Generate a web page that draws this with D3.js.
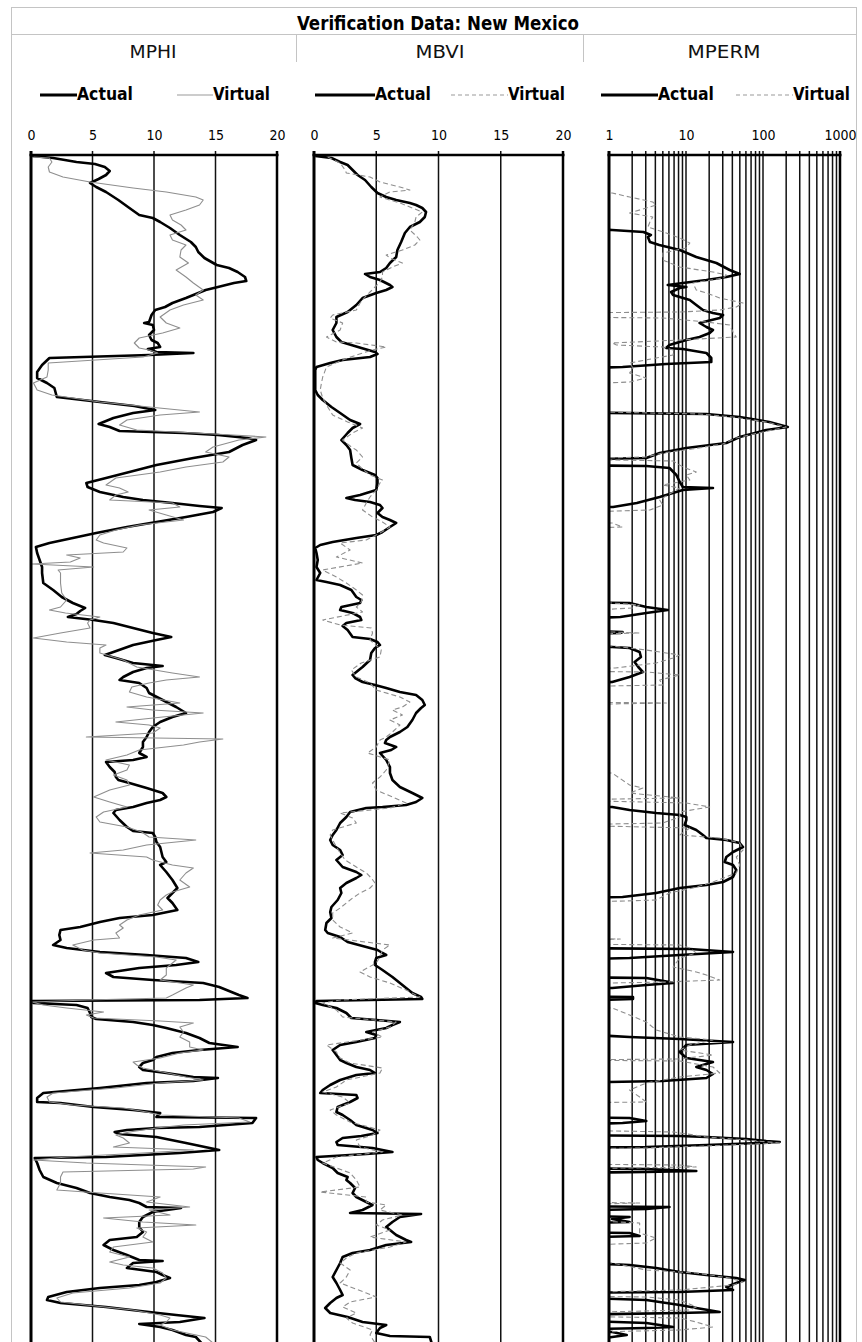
<!DOCTYPE html>
<html>
<head>
<meta charset="utf-8">
<script src="https://cdn.jsdelivr.net/npm/d3@7"></script>
<style>
  html, body { margin: 0; padding: 0; background: #fff; overflow: hidden; }
  svg { display: block; }
</style>
</head>
<body>
<svg id="chart" width="862" height="1342"></svg>
<script>
// ---- Chart text ----
const chartTitle = "Verification Data: New Mexico";
const trackNames = ["MPHI", "MBVI", "MPERM"];
const seriesNames = ["Actual", "Virtual"];
const linearTicks = [0, 5, 10, 15, 20];
const logTicks = [1, 10, 100, 1000];
const depthRange = [0, 1187];

// ---- Log curves: [depth, value] ----
const mphiActual = [[1,0.1],[3,1.8],[7,3.7],[9,5.2],[12,6.0],[16,6.4],[20,6.1],[24,5.5],[28,4.8],[32,5.3],[37,6.1],[45,7.1],[53,8.0],[60,8.8],[63,9.9],[67,10.5],[73,11.3],[80,12.1],[87,13.0],[92,13.4],[97,13.6],[103,14.1],[110,15.1],[113,16.1],[117,16.8],[122,17.4],[126,17.5],[128,16.5],[132,15.2],[135,14.2],[138,13.6],[143,12.6],[148,11.5],[152,10.9],[155,10.1],[160,9.8],[167,9.6],[168,9.2],[170,9.9],[175,10.0],[180,9.6],[185,9.8],[188,10.3],[192,10.5],[194,9.5],[197,10.2],[198,13.2],[200,9.6],[203,1.5],[210,0.9],[217,0.5],[223,0.5],[228,1.3],[233,1.9],[242,2.1],[246,4.9],[251,8.4],[255,10.1],[258,8.3],[263,6.7],[269,5.5],[272,6.4],[276,7.2],[278,12.4],[280,15.2],[283,17.6],[285,18.3],[290,17.2],[297,16.1],[303,13.2],[310,10.2],[317,8.0],[323,6.1],[328,4.5],[332,4.6],[337,5.6],[342,7.5],[345,9.1],[348,11.5],[351,13.7],[353,15.5],[357,14.8],[362,12.6],[367,10.2],[372,7.8],[378,5.3],[383,3.4],[388,1.5],[392,0.4],[398,0.5],[405,0.7],[412,0.9],[418,0.9],[428,1.0],[435,1.8],[442,2.5],[448,3.4],[453,4.4],[456,4.0],[459,3.7],[462,3.0],[465,5.1],[468,6.7],[473,8.3],[478,9.9],[482,11.4],[485,10.2],[490,8.3],[497,6.7],[500,6.0],[503,6.9],[508,8.3],[511,10.7],[513,9.4],[517,8.3],[522,7.5],[525,7.2],[528,8.8],[533,9.4],[538,9.6],[545,10.7],[552,11.8],[558,12.6],[562,11.5],[567,10.5],[572,9.9],[577,9.6],[582,9.4],[587,9.1],[592,9.1],[598,8.8],[602,9.4],[605,8.3],[607,6.1],[612,6.4],[617,6.8],[622,6.9],[625,7.1],[628,8.0],[633,9.4],[638,10.7],[642,11.0],[645,10.5],[648,9.4],[652,8.3],[655,6.9],[658,6.7],[665,7.2],[672,7.8],[676,8.3],[678,9.9],[682,10.1],[687,10.2],[692,10.5],[702,10.7],[707,11.0],[710,10.5],[717,11.0],[725,11.5],[733,11.9],[738,11.5],[743,11.1],[748,11.5],[755,11.9],[760,9.9],[763,7.2],[767,5.6],[772,4.0],[775,2.4],[780,2.3],[785,2.4],[790,1.8],[793,2.9],[797,5.6],[800,9.4],[803,12.6],[807,13.6],[810,11.8],[813,8.8],[818,6.1],[822,6.7],[825,9.9],[828,14.0],[832,15.3],[835,15.9],[840,16.9],[843,17.6],[845,13.7],[846,0.1],[848,0.2],[850,3.7],[853,4.6],[858,4.8],[862,4.9],[864,5.3],[867,8.3],[870,9.9],[873,11.0],[878,12.6],[883,13.7],[888,14.5],[892,16.8],[895,13.7],[898,11.5],[902,10.2],[905,9.9],[908,9.1],[912,8.8],[915,9.1],[918,11.0],[922,13.2],[923,15.2],[926,13.2],[928,9.4],[933,5.6],[938,1.0],[943,0.5],[947,0.5],[948,2.4],[952,5.1],[955,8.3],[958,10.5],[962,10.2],[963,18.3],[968,18.0],[972,13.7],[973,10.2],[975,7.8],[977,6.8],[979,7.2],[982,10.2],[988,12.6],[995,15.3],[998,12.1],[1002,6.1],[1003,0.3],[1008,0.5],[1015,0.7],[1022,1.0],[1028,2.1],[1033,3.7],[1038,4.8],[1042,6.4],[1045,8.0],[1048,8.8],[1052,9.4],[1053,12.2],[1057,9.9],[1062,9.1],[1067,8.8],[1072,8.8],[1077,9.1],[1082,8.6],[1085,6.4],[1090,5.9],[1095,6.7],[1100,7.8],[1105,8.8],[1106,10.7],[1108,8.3],[1113,7.8],[1117,10.2],[1120,10.7],[1123,11.3],[1127,10.2],[1130,8.8],[1133,5.6],[1137,2.9],[1142,1.4],[1145,1.3],[1148,2.4],[1152,6.1],[1157,9.6],[1160,11.8],[1163,14.1],[1167,12.1],[1169,8.8],[1172,10.5],[1175,11.5],[1180,12.6],[1182,13.4],[1190,14.0]];

const mphiVirtual = [[2,0.2],[3,1.5],[7,1.7],[12,1.4],[17,1.5],[22,2.6],[27,4.8],[33,8.3],[37,11.0],[42,13.4],[45,14.0],[50,13.7],[55,12.6],[60,11.3],[65,11.5],[70,12.2],[75,12.6],[80,11.3],[85,11.5],[90,12.6],[95,12.2],[102,12.1],[108,12.8],[115,11.8],[122,12.6],[128,13.2],[135,14.0],[140,13.4],[145,14.0],[150,12.4],[155,11.3],[162,10.5],[168,11.0],[173,12.1],[178,10.7],[183,8.8],[188,8.4],[193,8.8],[195,9.6],[198,10.3],[202,9.1],[208,1.4],[215,1.4],[222,1.3],[228,0.2],[235,0.5],[240,1.7],[247,5.6],[252,9.6],[257,13.7],[260,10.5],[265,7.8],[270,7.2],[275,8.6],[280,16.4],[282,19.1],[285,16.9],[292,14.8],[297,14.2],[302,16.1],[307,15.6],[312,12.6],[317,10.5],[323,6.9],[330,6.1],[333,7.2],[337,7.9],[340,6.9],[345,6.4],[348,11.5],[352,12.1],[355,9.6],[360,11.0],[365,12.4],[370,8.8],[375,6.9],[380,5.6],[385,5.3],[388,5.9],[393,7.8],[397,7.5],[400,2.9],[403,4.0],[407,3.2],[409,0.1],[412,5.1],[415,2.2],[418,2.4],[428,2.4],[438,2.5],[445,2.9],[452,2.4],[455,1.5],[458,2.8],[462,5.6],[465,4.8],[468,4.6],[473,4.8],[478,2.4],[483,0.2],[487,2.9],[490,6.1],[493,5.6],[498,5.6],[505,7.5],[512,8.6],[518,11.5],[522,13.7],[525,11.0],[528,9.6],[532,8.2],[537,8.0],[542,9.4],[548,12.1],[552,7.8],[555,9.9],[558,14.0],[562,10.7],[567,6.9],[570,9.6],[573,10.5],[578,9.9],[582,4.5],[584,15.6],[587,13.7],[590,12.4],[595,8.8],[600,7.8],[605,6.1],[610,8.0],[615,7.8],[620,6.7],[625,7.8],[630,8.0],[635,6.4],[642,5.1],[647,6.4],[652,7.8],[657,5.9],[662,5.3],[667,5.6],[672,7.8],[677,9.0],[682,9.6],[685,13.4],[690,9.4],[695,7.5],[698,4.8],[702,9.4],[705,9.9],[710,11.5],[713,13.2],[718,12.6],[725,12.1],[732,12.9],[737,11.5],[740,11.0],[745,10.5],[750,10.3],[755,10.7],[760,8.8],[765,7.8],[770,7.2],[773,7.5],[778,6.9],[783,7.2],[785,5.1],[790,3.4],[795,4.2],[798,5.6],[802,10.2],[805,11.8],[808,11.5],[813,11.0],[820,11.0],[825,10.5],[830,13.2],[833,12.6],[840,11.5],[843,11.0],[845,4.5],[847,0.1],[850,1.0],[853,2.9],[857,5.9],[860,4.5],[863,5.1],[866,10.5],[868,13.2],[872,12.1],[877,12.4],[882,12.1],[887,12.9],[892,12.9],[895,14.0],[898,12.1],[903,10.5],[907,8.3],[910,8.6],[913,9.1],[917,10.7],[922,12.6],[925,14.0],[928,10.5],[933,6.9],[938,1.8],[942,1.3],[947,1.5],[950,3.4],[953,7.5],[957,9.4],[960,10.5],[963,16.9],[967,17.8],[970,12.4],[973,10.2],[977,8.0],[980,6.9],[983,7.5],[988,8.0],[992,6.7],[995,13.2],[998,9.1],[1002,2.9],[1005,0.2],[1008,4.5],[1012,14.2],[1014,13.2],[1017,2.6],[1022,2.4],[1028,2.4],[1035,2.1],[1038,5.6],[1042,10.5],[1047,9.4],[1052,12.9],[1055,9.6],[1060,11.3],[1063,5.9],[1067,9.1],[1070,13.4],[1073,8.6],[1077,9.4],[1082,9.1],[1087,9.9],[1092,6.7],[1097,6.4],[1102,8.0],[1107,6.4],[1110,7.5],[1113,9.9],[1118,10.7],[1123,11.0],[1128,10.5],[1133,8.0],[1138,3.4],[1143,2.1],[1147,2.4],[1150,4.5],[1155,8.3],[1160,10.5],[1163,11.3],[1167,11.0],[1170,10.5],[1175,11.5],[1182,14.2],[1190,15.0]];

const mbviActual = [[1,0.1],[3,1.4],[7,2.1],[10,2.7],[15,3.1],[20,3.5],[25,4.1],[32,4.6],[38,5.1],[42,5.8],[45,6.6],[48,7.7],[50,8.2],[53,8.7],[57,9.0],[62,8.9],[67,8.5],[72,7.7],[78,7.3],[87,7.0],[95,6.7],[102,6.6],[108,6.1],[113,5.8],[117,5.3],[119,4.1],[122,4.5],[125,5.3],[130,6.1],[132,6.3],[135,5.8],[138,5.0],[143,3.9],[150,3.4],[157,2.7],[162,1.8],[168,1.8],[175,1.5],[182,1.8],[187,2.2],[190,3.0],[193,3.8],[197,4.9],[199,5.1],[202,4.5],[205,2.3],[208,1.3],[212,0.2],[215,0.1],[235,0.1],[240,0.3],[245,0.7],[252,1.4],[258,2.1],[265,2.9],[269,3.7],[273,3.1],[278,2.7],[285,2.2],[290,2.6],[295,2.9],[303,3.0],[310,3.1],[315,3.9],[320,4.9],[323,5.1],[328,5.1],[335,5.0],[340,3.7],[343,2.6],[345,3.3],[347,4.5],[350,5.3],[353,5.5],[358,5.1],[362,5.5],[365,6.1],[368,6.6],[372,6.1],[377,5.5],[380,5.0],[383,3.4],[387,1.5],[390,0.5],[393,0.1],[398,0.2],[405,0.3],[412,0.2],[418,0.5],[425,0.2],[427,1.0],[430,2.1],[435,3.0],[442,3.4],[445,3.8],[448,3.7],[452,2.2],[455,2.1],[458,3.1],[462,3.7],[465,3.8],[468,2.6],[471,2.3],[475,2.7],[482,3.1],[484,4.5],[487,5.1],[490,5.3],[493,4.9],[498,4.6],[505,4.5],[512,3.9],[517,3.4],[520,3.1],[523,3.3],[527,3.9],[530,4.9],[533,5.8],[537,6.9],[540,8.2],[545,8.7],[550,8.9],[553,8.6],[558,8.2],[565,7.9],[572,7.5],[577,6.9],[582,6.1],[585,5.8],[588,5.7],[592,6.6],[595,6.2],[598,5.3],[605,5.8],[612,6.1],[618,6.1],[625,6.3],[632,6.9],[638,7.9],[643,8.7],[647,8.2],[650,7.4],[652,5.5],[653,4.2],[657,2.9],[662,2.6],[668,2.1],[675,1.8],[680,1.5],[685,1.3],[690,1.5],[695,2.1],[700,2.3],[705,1.8],[712,2.3],[717,3.4],[720,3.8],[723,3.4],[728,2.6],[733,2.1],[738,2.2],[745,1.9],[752,1.4],[757,1.3],[763,1.4],[768,1.0],[775,0.9],[778,1.1],[782,2.1],[787,2.7],[792,4.2],[795,5.1],[798,5.5],[800,5.8],[803,5.0],[807,4.9],[810,4.9],[815,5.5],[822,6.3],[828,6.9],[833,7.4],[838,7.9],[842,8.6],[844,8.7],[846,0.2],[848,0.1],[850,0.7],[853,1.8],[858,2.6],[863,3.0],[865,5.0],[867,6.9],[870,6.3],[873,5.8],[877,4.2],[880,5.0],[883,4.9],[887,3.4],[890,2.1],[895,1.5],[900,1.8],[905,2.1],[908,2.6],[912,3.4],[915,4.5],[918,4.9],[920,3.4],[925,2.1],[930,1.3],[935,0.7],[938,0.5],[940,3.4],[943,3.5],[947,2.9],[952,1.9],[957,1.8],[960,2.3],[965,2.9],[970,3.4],[975,4.7],[978,5.1],[981,3.8],[983,2.3],[987,1.8],[990,1.9],[993,4.7],[997,6.3],[999,4.2],[1002,0.2],[1005,0.3],[1008,0.7],[1013,1.5],[1018,1.9],[1022,2.7],[1025,2.6],[1028,2.9],[1033,3.3],[1038,3.1],[1042,3.4],[1047,4.2],[1050,4.7],[1055,3.9],[1058,2.9],[1059,8.6],[1062,6.9],[1067,6.3],[1072,5.8],[1075,6.1],[1080,6.6],[1085,7.4],[1087,7.8],[1090,5.8],[1095,4.5],[1098,3.1],[1102,2.3],[1108,2.1],[1115,1.8],[1122,1.5],[1128,1.8],[1135,2.1],[1140,2.3],[1143,1.8],[1148,1.3],[1153,0.9],[1158,1.3],[1162,2.7],[1167,3.9],[1170,5.8],[1173,5.3],[1178,5.0],[1181,6.1],[1182,9.3],[1190,9.5]];

const mbviVirtual = [[2,1.1],[8,2.1],[15,2.5],[18,2.6],[22,4.5],[27,5.3],[32,6.9],[35,7.7],[37,6.1],[42,5.3],[48,6.9],[52,7.7],[57,8.7],[62,8.2],[67,8.1],[75,7.7],[82,8.3],[85,8.5],[90,8.1],[95,7.1],[100,5.8],[103,6.1],[108,7.1],[112,6.3],[117,5.5],[122,5.5],[127,5.3],[132,4.9],[137,4.5],[142,4.1],[148,3.7],[155,3.4],[160,1.5],[163,1.3],[168,2.3],[175,2.1],[182,1.0],[187,1.8],[188,3.4],[192,5.8],[195,4.7],[200,3.4],[205,2.3],[212,1.0],[222,0.7],[228,0.6],[235,0.5],[243,0.7],[252,1.1],[260,1.5],[267,2.7],[273,3.9],[278,3.1],[285,2.3],[292,3.0],[295,3.4],[302,3.9],[308,3.4],[313,3.8],[320,4.5],[325,5.5],[328,5.3],[335,5.0],[342,4.5],[348,4.2],[355,3.9],[362,4.7],[367,5.5],[372,6.1],[378,5.3],[385,4.2],[388,2.1],[395,2.9],[402,1.8],[408,3.9],[415,0.7],[422,1.8],[428,2.6],[435,3.4],[440,3.9],[447,3.8],[452,3.4],[457,3.9],[465,0.7],[470,2.1],[473,4.6],[478,4.7],[485,4.5],[495,5.4],[502,5.3],[508,3.8],[515,3.0],[522,3.4],[528,4.5],[535,5.0],[542,6.9],[547,7.7],[552,7.1],[555,6.3],[560,7.1],[565,6.1],[570,6.9],[577,6.3],[582,5.8],[585,5.3],[592,5.0],[598,4.3],[605,6.1],[615,5.8],[622,5.3],[628,4.7],[635,5.0],[642,6.3],[648,7.4],[653,6.1],[658,2.1],[663,3.1],[668,3.4],[675,1.5],[680,1.3],[685,1.5],[692,1.8],[698,2.1],[705,2.5],[712,3.4],[718,4.2],[723,4.6],[728,4.9],[733,4.5],[738,3.7],[743,3.1],[748,2.6],[753,2.1],[758,1.5],[765,1.5],[772,2.1],[778,3.1],[783,1.5],[790,6.1],[795,5.5],[802,5.3],[808,5.0],[817,3.7],[822,4.5],[828,6.1],[835,7.4],[842,8.5],[845,2.1],[848,0.7],[855,1.8],[862,2.3],[867,6.6],[872,6.1],[877,4.7],[882,5.5],[890,1.0],[897,1.8],[903,2.1],[908,2.9],[913,5.5],[918,5.3],[925,2.6],[932,1.8],[937,0.7],[942,2.3],[948,2.9],[955,1.3],[960,1.8],[967,2.9],[975,5.3],[980,4.7],[985,3.4],[992,3.7],[997,5.5],[1002,1.8],[1008,0.7],[1018,2.9],[1025,3.4],[1032,3.7],[1037,0.5],[1042,4.2],[1047,4.2],[1050,5.8],[1055,5.3],[1060,7.1],[1065,5.5],[1070,5.0],[1075,6.1],[1082,4.5],[1087,7.4],[1092,6.1],[1098,3.4],[1103,2.6],[1108,2.1],[1115,2.9],[1122,2.6],[1128,2.1],[1138,4.2],[1142,5.0],[1147,2.9],[1152,2.3],[1158,3.4],[1163,2.6],[1168,3.1],[1175,4.7],[1180,4.5],[1190,5.0]];

const mpermActual = [[72,0.2],[75,1.1],[77,2.8],[80,3.5],[82,3.2],[87,3.4],[90,4.5],[95,8.3],[102,13.6],[108,24.8],[115,36.9],[119,49.8],[122,33.4],[125,18.4],[128,9.1],[130,5.8],[132,10.1],[133,8.3],[137,6.4],[140,6.8],[142,8.3],[145,11.2],[150,13.6],[155,16.6],[158,22.4],[160,30.3],[163,27.4],[168,15.0],[172,18.4],[175,22.4],[178,20.3],[182,15.0],[185,10.1],[190,6.1],[193,5.5],[194,9.1],[198,18.4],[203,21.3],[207,21.3],[209,5.5],[212,1.5],[214,0.2],[257,0.1],[259,18.4],[262,49.8],[267,121],[272,210],[275,110],[282,49.8],[288,33.4],[293,10.1],[298,4.55],[303,3.05],[305,0.2],[310,0.2],[311,3.05],[313,6.1],[320,7.5],[327,8.3],[332,9.1],[333,22.4],[335,9.1],[342,4.55],[348,2.3],[352,1.13],[353,0.2],[447,0.2],[448,1.85],[452,3.05],[455,5.8],[458,3.05],[462,1.4],[464,0.2],[475,0.2],[477,1.5],[478,1.4],[479,0.2],[491,0.2],[492,1.1],[493,1.85],[497,2.5],[502,2.6],[507,2.15],[512,2.4],[517,2.75],[522,1.85],[527,1.1],[529,0.2],[651,0.2],[652,1.1],[655,1.85],[658,4.1],[660,8.3],[662,10.1],[665,10.1],[670,9.6],[675,13.6],[680,16.6],[683,18.4],[685,33.4],[688,49.8],[692,55],[697,40.8],[702,33.4],[707,31.8],[710,40.8],[715,45],[722,40.8],[727,30.3],[730,18.4],[733,8.3],[738,4.1],[742,1.5],[743,0.2],[793,0.2],[794,11.2],[797,40.8],[800,8.3],[803,1.85],[805,0.2],[822,0.2],[823,3.05],[827,6.1],[828,6.8],[830,3.05],[833,1.1],[834,0.2],[841,0.2],[842,2.05],[844,2.05],[846,0.2],[878,0.2],[882,1.85],[884,8.3],[887,40.8],[890,10.1],[897,8.3],[903,10.1],[907,22.4],[912,13.6],[915,18.4],[919,22.4],[923,18.4],[926,5.0],[928,0.2],[962,0.2],[963,1.85],[966,3.05],[968,1.5],[970,0.2],[980,0.2],[981,8.3],[982,18.4],[984,60.8],[986,110],[987,165],[988,90],[990,18.4],[992,3.05],[993,0.2],[1013,0.2],[1014,3.05],[1016,13.6],[1017,3.05],[1018,0.2],[1051,0.2],[1052,6.1],[1054,3.05],[1056,0.2],[1060,0.2],[1062,1.85],[1064,1.1],[1067,1.85],[1069,0.2],[1077,0.2],[1078,1.85],[1081,2.5],[1083,0.2],[1107,0.2],[1110,1.85],[1113,4.1],[1117,8.3],[1120,18.4],[1123,45],[1125,58],[1128,45],[1132,33.4],[1135,40.8],[1137,8.3],[1138,0.2],[1142,0.2],[1145,3.05],[1150,8.3],[1153,13.6],[1157,27.4],[1158,8.3],[1160,0.2],[1165,0.2],[1168,3.05],[1172,6.8],[1173,3.05],[1175,0.2],[1177,1.1],[1180,1.7],[1182,1.1],[1190,0.2]];

const mpermVirtual = [[36,0.2],[38,1.1],[42,1.85],[47,3.7],[50,4.1],[53,3.05],[58,1.85],[62,3.7],[67,3.4],[72,3.2],[78,5.55],[83,8.3],[88,11.2],[93,10.1],[98,5.0],[105,5.0],[112,8.3],[117,22.4],[120,33.4],[123,30.3],[128,12.3],[135,13.6],[138,18.4],[143,27.4],[148,55],[152,45],[155,27.4],[157,8.3],[158,0.2],[162,0.2],[163,5.0],[167,18.4],[170,36.9],[177,40.8],[182,45],[185,8.3],[188,1.1],[190,1.25],[192,5.0],[195,6.8],[200,6.8],[203,4.1],[208,1.85],[213,2.05],[218,1.85],[223,3.05],[227,1.85],[230,0.2],[256,0.2],[259,15],[262,40],[267,110],[272,200],[277,100],[283,45],[289,30],[294,12],[298,5],[302,3.0],[304,0.2],[306,6.8],[312,9.1],[317,13.6],[320,10.1],[325,11.2],[330,5.0],[333,8.3],[340,5.8],[345,4.55],[350,5.0],[355,3.4],[358,0.2],[367,0.2],[368,1.1],[372,1.5],[374,0.2],[447,0.2],[448,1.1],[450,2.5],[453,2.05],[457,0.2],[476,0.2],[477,1.1],[478,2.5],[480,0.2],[490,0.2],[491,1.1],[495,3.05],[500,8.3],[503,6.8],[508,4.1],[513,1.2],[514,0.2],[516,0.2],[517,3.05],[520,8.3],[525,4.55],[530,5.0],[532,0.2],[547,0.2],[548,5.55],[550,0.2],[617,0.2],[618,1.1],[630,1.85],[633,2.75],[638,1.85],[643,8.3],[645,0.2],[648,10.1],[652,20.3],[657,8.3],[662,8.3],[668,5.0],[670,0.2],[673,11.2],[680,8.3],[683,27.4],[688,49.8],[695,55],[702,45],[710,49.8],[718,45],[727,22.4],[733,12.3],[738,6.1],[745,4.1],[748,0.2],[783,0.2],[784,1.4],[786,0.2],[789,0.2],[790,8.3],[793,11.2],[798,13.6],[803,8.3],[812,6.8],[817,13.6],[820,18.4],[825,27.4],[827,5.55],[829,0.2],[852,0.2],[853,1.1],[860,1.85],[867,3.05],[875,4.1],[882,8.3],[885,22.4],[890,11.2],[895,8.3],[900,22.4],[904,8.3],[905,0.2],[906,8.3],[912,22.4],[918,27.4],[922,8.3],[928,3.05],[935,1.85],[942,2.5],[947,3.05],[948,0.2],[975,0.2],[977,7.0],[982,18.4],[985,60.8],[988,165],[991,18.4],[993,3.05],[994,0.2],[1009,0.2],[1010,8.3],[1012,13.6],[1014,0.2],[1047,0.2],[1048,2.5],[1050,0.2],[1064,0.2],[1068,2.5],[1078,2.5],[1083,4.1],[1088,3.05],[1091,0.2],[1107,0.2],[1108,1.1],[1115,3.05],[1118,13.6],[1123,36.9],[1127,55],[1130,40.8],[1135,8.3],[1138,0.2],[1141,0.2],[1142,3.05],[1145,8.3],[1152,13.6],[1155,11.2],[1158,0.2],[1161,0.2],[1163,8.3],[1167,13.6],[1172,22.4],[1175,8.3],[1178,0.2],[1190,0.2]];

// ---- Layout ----
const W = 862, H = 1342;
const plotTop = 155, plotBottom = H;
const fontNarrow = "'Liberation Sans Narrow','DejaVu Sans Condensed','Liberation Sans',sans-serif";

const svg = d3.select("#chart");
const y = d3.scaleLinear().domain(depthRange).range([plotTop, plotBottom]);

const tracks = [
  { name: trackNames[0], actual: mphiActual, virtual: mphiVirtual,
    x: d3.scaleLinear().domain([linearTicks[0], linearTicks[linearTicks.length - 1]]).range([31, 277]),
    ticks: linearTicks, log: false, dashed: false, center: 153, titleLen: 47,
    legend: { a: [40, 77], v: [177, 213] } },
  { name: trackNames[1], actual: mbviActual, virtual: mbviVirtual,
    x: d3.scaleLinear().domain([linearTicks[0], linearTicks[linearTicks.length - 1]]).range([314, 563]),
    ticks: linearTicks, log: false, dashed: true, center: 440, titleLen: 49,
    legend: { a: [315, 375], v: [451, 508] } },
  { name: trackNames[2], actual: mpermActual, virtual: mpermVirtual,
    x: d3.scaleLog().domain([logTicks[0], logTicks[logTicks.length - 1]]).range([609, 840]),
    ticks: logTicks, log: true, dashed: true, center: 724, titleLen: 73,
    legend: { a: [601, 658], v: [736, 793] } }
];

// ---- Outer box, title band and column dividers ----
svg.append("rect")
  .attr("x", 11.5).attr("y", 7.5).attr("width", 845).attr("height", H)
  .attr("fill", "none").attr("stroke", "#c4c4c4").attr("stroke-width", 1);
svg.append("line")
  .attr("x1", 11.5).attr("x2", 856.5).attr("y1", 34.5).attr("y2", 34.5)
  .attr("stroke", "#c4c4c4");
[296.5, 583.5].forEach(xp => {
  svg.append("line").attr("x1", xp).attr("x2", xp).attr("y1", 34.5).attr("y2", 62)
    .attr("stroke", "#c4c4c4");
});

svg.append("text")
  .attr("x", 438).attr("y", 30).attr("text-anchor", "middle")
  .attr("font-family", fontNarrow).attr("font-weight", "bold").attr("font-size", 19)
  .attr("textLength", 282).attr("lengthAdjust", "spacingAndGlyphs")
  .text(chartTitle);

// ---- Tracks ----
tracks.forEach((t, i) => {
  const g = svg.append("g");
  const [x0, x1] = t.x.range();

  // track heading
  g.append("text")
    .attr("x", t.center).attr("y", 58).attr("text-anchor", "middle")
    .attr("font-family", fontNarrow).attr("font-size", 18).attr("fill", "#111")
    .attr("textLength", t.titleLen).attr("lengthAdjust", "spacingAndGlyphs")
    .text(t.name);

  // legend
  const lg = g.append("g").attr("font-family", fontNarrow)
    .attr("font-weight", "bold").attr("font-size", 17);
  lg.append("line").attr("x1", t.legend.a[0]).attr("x2", t.legend.a[1])
    .attr("y1", 95).attr("y2", 95).attr("stroke", "#000").attr("stroke-width", 3);
  lg.append("text").attr("x", t.legend.a[1]).attr("y", 100)
    .attr("textLength", 56).attr("lengthAdjust", "spacingAndGlyphs").text(seriesNames[0]);
  lg.append("line").attr("x1", t.legend.v[0]).attr("x2", t.legend.v[1])
    .attr("y1", 95).attr("y2", 95).attr("stroke", "#9a9a9a").attr("stroke-width", 1.2)
    .attr("stroke-dasharray", t.dashed ? "4,3" : null);
  lg.append("text").attr("x", t.legend.v[1]).attr("y", 100)
    .attr("textLength", 57).attr("lengthAdjust", "spacingAndGlyphs").text(seriesNames[1]);

  // vertical grid from the scale's own ticks (log track gets every 1-9 subdivision)
  const gridVals = (t.log ? t.x.ticks() : t.x.ticks(t.ticks.length - 1))
    .filter(v => v > t.x.domain()[0] && v < t.x.domain()[1]);
  g.append("g").selectAll("line").data(gridVals).join("line")
    .attr("x1", d => t.x(d)).attr("x2", d => t.x(d))
    .attr("y1", plotTop - 4).attr("y2", H)
    .attr("stroke", "#111").attr("stroke-width", 1.5);

  // scale labels
  const axis = d3.axisTop(t.x).tickValues(t.ticks).tickSize(0).tickPadding(15)
    .tickFormat(d3.format("d"));
  const ax = g.append("g").attr("transform", `translate(0,${plotTop})`).call(axis);
  ax.select(".domain").remove();
  ax.selectAll("text").attr("font-family", "'DejaVu Sans Condensed','Liberation Sans Narrow',sans-serif")
    .attr("font-size", 14).attr("fill", "#000");

  // clipped curves
  const clipId = "clip" + i;
  svg.append("clipPath").attr("id", clipId).append("rect")
    .attr("x", x0).attr("y", plotTop).attr("width", x1 - x0).attr("height", plotBottom - plotTop);
  const line = d3.line().x(d => t.x(d[1])).y(d => y(d[0]));
  const cg = g.append("g").attr("clip-path", `url(#${clipId})`);
  cg.append("path").datum(t.actual).attr("d", line)
    .attr("fill", "none").attr("stroke", "#000").attr("stroke-width", 2.6)
    .attr("stroke-linejoin", "round");
  cg.append("path").datum(t.virtual).attr("d", line)
    .attr("fill", "none").attr("stroke", "#8e8e8e").attr("stroke-width", 1.1)
    .attr("stroke-linejoin", "round")
    .attr("stroke-dasharray", t.dashed ? "5,3" : null);

  // track frame
  g.append("line").attr("x1", x0 - 1.5).attr("x2", x1 + 1.5)
    .attr("y1", plotTop).attr("y2", plotTop).attr("stroke", "#000").attr("stroke-width", 2.5);
  g.append("line").attr("x1", x0).attr("x2", x0)
    .attr("y1", plotTop - 4).attr("y2", H).attr("stroke", "#000").attr("stroke-width", 3);
  g.append("line").attr("x1", x1).attr("x2", x1)
    .attr("y1", plotTop - 4).attr("y2", H).attr("stroke", "#000").attr("stroke-width", 2.5);
});
</script>
</body>
</html>
